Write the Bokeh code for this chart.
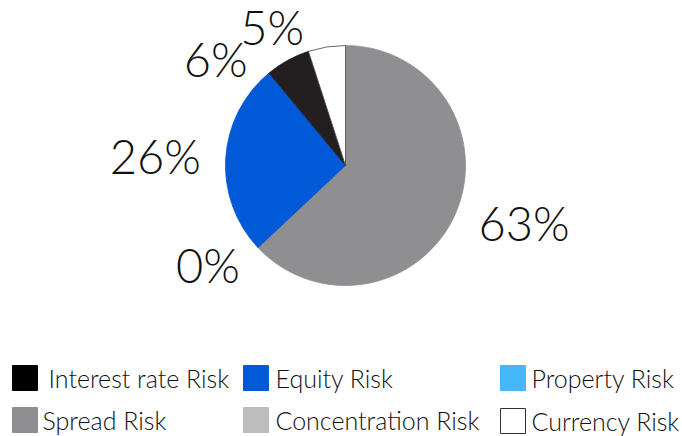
import numpy as np
from bokeh.plotting import figure
from bokeh.models import Range1d, ColumnDataSource
from bokeh.core.properties import value
from bokeh.embed import file_html
from bokeh.resources import INLINE

# ---- data ----
slice_names = ["Spread Risk", "Concentration Risk", "Equity Risk", "Interest rate Risk", "Currency Risk"]
slice_values = [63, 0, 26, 6, 5]
slice_colors = ["#8f8f91", "#bdbdbd", "#0059d6", "#231f20", "#ffffff"]

legend_names = ["Interest rate Risk", "Equity Risk", "Property Risk",
                "Spread Risk", "Concentration Risk", "Currency Risk"]
legend_colors = ["#000000", "#0059d6", "#45b8fc", "#8f8f91", "#bdbdbd", "#ffffff"]

# ---- layout (pixels) ----
W, H = 682, 436
CX, CY, R = 345, 165, 120
R_LAB = 145
MIN_Y = 26
GAP = 32
FONT = "Lato Light, Lato"
leg_sw_x = [12, 243, 500, 12, 243, 500]
leg_sw_y = [365, 365, 365, 407, 407, 408]
leg_tx_x = [48, 275, 531, 42, 275, 531]
SW = 25

p = figure(width=W, height=H, output_backend="svg", toolbar_location=None,
           x_range=Range1d(0, W), y_range=Range1d(0, H), min_border=0)
p.axis.visible = False
p.grid.visible = False
p.outline_line_color = None
p.background_fill_color = "white"

vals = np.array(slice_values, dtype=float)
frac = vals / vals.sum()
cum_end = np.cumsum(frac)
cum_start = cum_end - frac
start = np.pi / 2 - 2 * np.pi * cum_start
end = np.pi / 2 - 2 * np.pi * cum_end
mask = vals > 0
src = ColumnDataSource(dict(
    x=[CX] * int(mask.sum()), y=[H - CY] * int(mask.sum()),
    start=list(start[mask]), end=list(end[mask]),
    color=[c for c, m in zip(slice_colors, mask) if m],
    line=[("#444444" if c == "#ffffff" else c) for c, m in zip(slice_colors, mask) if m],
))
p.wedge(x="x", y="y", radius=R, start_angle="start", end_angle="end", direction="clock",
        fill_color="color", line_color="line", line_width=0.8, source=src)

# data labels: anchored at mid-angle, aligned by side, with simple collision avoidance
mid = 2 * np.pi * (cum_start + frac / 2)
ly_s = CY - R_LAB * np.cos(mid)
right = np.sin(mid) >= 0
for side in (True, False):
    idx = [i for i in np.argsort(ly_s) if right[i] == side]
    prev = None
    for i in idx:
        y = max(ly_s[i], MIN_Y)
        if prev is not None:
            y = max(y, prev + GAP)
        ly_s[i] = y
        prev = y
dx = np.sqrt(np.maximum(R_LAB ** 2 - (ly_s - CY) ** 2, 0))
lx = np.where(right, CX + dx, CX - dx)
labels = [f"{int(round(v))}%" for v in slice_values]
aligns = ["left" if r else "right" for r in right]
p.text(x=list(lx), y=list(H - ly_s), text=labels, text_font=value(FONT), text_font_size="47px",
       text_align=aligns, text_baseline="middle", text_color="#111111")

# legend
p.rect(x=[x + SW / 2 for x in leg_sw_x], y=[H - (y + SW / 2) for y in leg_sw_y],
       width=SW, height=SW, fill_color=legend_colors,
       line_color=[("#333333" if c == "#ffffff" else c) for c in legend_colors], line_width=1)
p.text(x=leg_tx_x, y=[H - (y + SW / 2) for y in leg_sw_y], text=legend_names,
       text_font=value(FONT), text_font_size="25px", text_align="left",
       text_baseline="middle", text_color="#111111")

open("out.html", "w").write(file_html(p, INLINE))
